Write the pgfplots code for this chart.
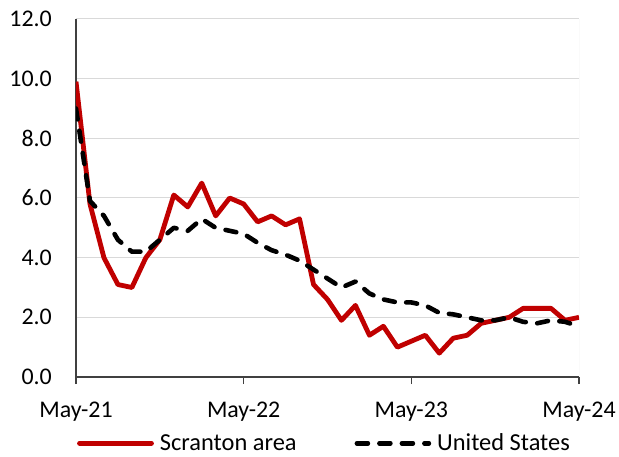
\documentclass[border=0pt]{standalone}
\usepackage{fontspec}
\setmainfont{Carlito}
\usepackage{pgfplots}
\pgfplotsset{compat=1.18}
\definecolor{scr}{RGB}{192,0,0}
\definecolor{gridc}{RGB}{217,217,217}
\definecolor{axc}{RGB}{64,64,64}
\begin{document}
\begin{tikzpicture}
\useasboundingbox (-76bp,-80bp) rectangle (543bp,377bp);
\begin{axis}[
  at={(0,0)}, anchor=south west,
  scale only axis, width=503bp, height=358bp,
  xmin=0, xmax=36, ymin=0, ymax=12,
  axis lines=left,
  axis line style={-, draw=axc, line width=1.2bp},
  xtick={0,12,24,36},
  xticklabels={May-21,May-22,May-23,May-24},
  ytick={0,2,...,12},
  yticklabel style={/pgf/number format/fixed, /pgf/number format/fixed zerofill, /pgf/number format/precision=1, /pgf/number format/assume math mode=true, /tikz/inner sep=0pt, /tikz/anchor=east, /tikz/xshift=-17bp},
  every tick label/.append style={font=\fontsize{24}{28}\selectfont, text=black},
  xticklabel style={anchor=base, inner sep=0pt, yshift=-33bp},
  tick align=outside,
  major tick length=7bp,
  xtick style={draw=axc, line width=1.2bp},
  ytick style={draw=none},
  ymajorgrids,
  grid style={draw=gridc, line width=1bp},
  legend columns=2,
  legend style={at={(0.495,-0.185)}, anchor=center, draw=none, fill=none,
    font=\fontsize{24.5}{28}\selectfont, inner sep=0pt,
    /tikz/every odd column/.append style={column sep=3bp},
    /tikz/every even column/.append style={column sep=55bp},
    nodes={inner xsep=3bp, inner ysep=1bp}},
  legend image code/.code={\draw[#1, line cap=round] (0bp,0bp) -- (72bp,0bp);},
]
\draw[gridc, line width=1bp] (rel axis cs:1,0) -- (rel axis cs:1,1);
\addplot[scr, line width=4.8bp, line join=round] coordinates {
(0,9.9) (1,5.8) (2,4.0) (3,3.1) (4,3.0) (5,4.0) (6,4.6) (7,6.1) (8,5.7) (9,6.5)
(10,5.4) (11,6.0) (12,5.8) (13,5.2) (14,5.4) (15,5.1) (16,5.3) (17,3.1) (18,2.6) (19,1.9)
(20,2.4) (21,1.4) (22,1.7) (23,1.0) (24,1.2) (25,1.4) (26,0.8) (27,1.3) (28,1.4) (29,1.8)
(30,1.9) (31,2.0) (32,2.3) (33,2.3) (34,2.3) (35,1.9) (36,2.0)
};
\addlegendentry{Scranton area}
\addplot[black, line width=4.6bp, line cap=round, line join=round, dash pattern=on 11bp off 11.5bp] coordinates {
(0,9.0) (1,5.9) (2,5.4) (3,4.6) (4,4.2) (5,4.2) (6,4.6) (7,5.0) (8,4.9) (9,5.3)
(10,5.0) (11,4.9) (12,4.8) (13,4.5) (14,4.25) (15,4.1) (16,3.9) (17,3.6) (18,3.3) (19,3.0)
(20,3.2) (21,2.8) (22,2.6) (23,2.5) (24,2.5) (25,2.4) (26,2.15) (27,2.1) (28,2.0) (29,1.9)
(30,1.9) (31,2.0) (32,1.85) (33,1.8) (34,1.9) (35,1.85) (36,1.7)
};
\addlegendentry{United States}
\end{axis}
\end{tikzpicture}
\end{document}
